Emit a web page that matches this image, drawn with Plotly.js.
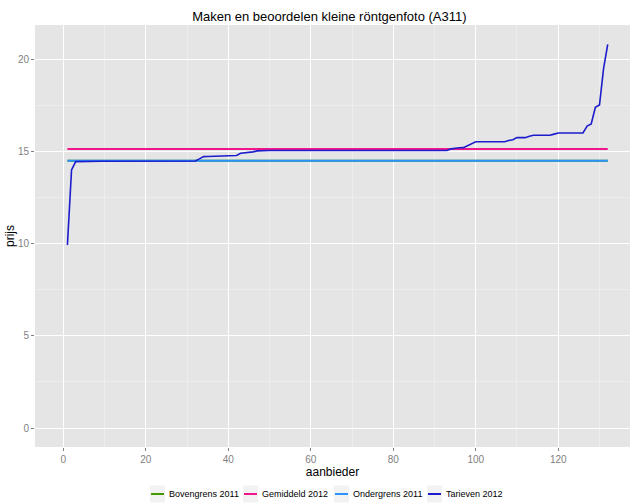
<!DOCTYPE html>
<html>
<head>
<meta charset="utf-8">
<script src="https://cdn.plot.ly/plotly-3.0.1.min.js"></script>
<style>html,body{margin:0;padding:0;background:#fff;}#chart{width:631px;height:503px;}</style>
</head>
<body>
<div id="chart"></div>
<script>
// Data
const seriesNames = ["Bovengrens 2011", "Gemiddeld 2012", "Ondergrens 2011", "Tarieven 2012"];
const tarieven2012 = [
  9.93, 14.0, 14.45, 14.46, 14.47, 14.47, 14.47, 14.47, 14.47, 14.47,
  14.47, 14.47, 14.47, 14.47, 14.47, 14.47, 14.47, 14.47, 14.47, 14.47,
  14.47, 14.47, 14.47, 14.47, 14.47, 14.47, 14.47, 14.47, 14.47, 14.47,
  14.47, 14.48, 14.6, 14.72, 14.73, 14.74, 14.75, 14.76, 14.77, 14.77,
  14.78, 14.78, 14.9, 14.92, 14.95, 14.98, 15.03, 15.05, 15.05, 15.05,
  15.05, 15.05, 15.05, 15.05, 15.05, 15.05, 15.05, 15.05, 15.05, 15.05,
  15.05, 15.05, 15.05, 15.05, 15.05, 15.05, 15.05, 15.05, 15.05, 15.05,
  15.05, 15.05, 15.05, 15.05, 15.05, 15.05, 15.05, 15.05, 15.05, 15.05,
  15.05, 15.05, 15.05, 15.05, 15.05, 15.05, 15.05, 15.05, 15.05, 15.05,
  15.05, 15.05, 15.05, 15.14, 15.18, 15.2, 15.21, 15.32, 15.43, 15.53,
  15.53, 15.53, 15.53, 15.53, 15.53, 15.53, 15.53, 15.6, 15.64, 15.75,
  15.75, 15.75, 15.82, 15.88, 15.88, 15.88, 15.88, 15.88, 15.94, 16.0,
  16.0, 16.0, 16.0, 16.0, 16.0, 16.0, 16.38, 16.49, 17.4, 17.52,
  19.51, 20.81
];
const gemiddeld2012 = 15.13;
const ondergrens2011 = 14.49;
const bovengrens2011 = 14.49;
const aanbieder = tarieven2012.map((_, i) => i + 1);
const xTicks = [0, 20, 40, 60, 80, 100, 120];
const yTicks = [0, 5, 10, 15, 20];

const colors = ["#449900", "#F0168C", "#2A93FF", "#1C1CCC"];
const constSeries = [bovengrens2011, gemiddeld2012, ondergrens2011];

const traces = [];
constSeries.forEach((v, k) => {
  traces.push({
    x: aanbieder, y: aanbieder.map(() => v), type: "scatter", mode: "lines",
    name: seriesNames[k], line: {color: colors[k], width: 2}
  });
});
traces.push({
  x: aanbieder, y: tarieven2012, type: "scatter", mode: "lines",
  name: seriesNames[3], line: {color: colors[3], width: 1.6}
});

// Plot-area geometry (pixels) for the hand-built ggplot-style legend
const W = 631, H = 503, mL = 35, mR = 1, mT = 25, mB = 56;
const pw = W - mL - mR, ph = H - mT - mB;
const px2x = p => (p - mL) / pw;
const py2y = p => (H - mB - p) / ph;
const keyLeft = [150, 243, 334, 427];
const keyW = 15, keyH = 17, legendY = 494;

const shapes = [], annotations = [];
seriesNames.forEach((name, k) => {
  const x0 = keyLeft[k];
  shapes.push({type: "rect", xref: "paper", yref: "paper",
    x0: px2x(x0), x1: px2x(x0 + keyW), y0: py2y(legendY + keyH / 2), y1: py2y(legendY - keyH / 2),
    fillcolor: "#f2f2f2", line: {width: 0}, layer: "above"});
  shapes.push({type: "line", xref: "paper", yref: "paper",
    x0: px2x(x0 + 1), x1: px2x(x0 + keyW - 1), y0: py2y(legendY), y1: py2y(legendY),
    line: {color: colors[k], width: 2}, layer: "above"});
  annotations.push({xref: "paper", yref: "paper", x: px2x(x0 + keyW + 3), y: py2y(legendY),
    xanchor: "left", yanchor: "middle", showarrow: false, text: name, borderpad: 0,
    font: {family: "Liberation Sans, Arial, sans-serif", size: 9, color: "#000"}});
});

const axisCommon = {
  showgrid: true, gridcolor: "#ffffff", gridwidth: 1,
  zeroline: false, showline: false,
  ticks: "outside", ticklen: 3, tickwidth: 1, tickcolor: "#7f7f7f",
  tickfont: {family: "Liberation Sans, Arial, sans-serif", size: 10, color: "#7f7f7f"}
};

const layout = {
  width: W, height: H,
  margin: {l: mL, r: mR, t: mT, b: mB, pad: 0, autoexpand: false},
  paper_bgcolor: "#ffffff", plot_bgcolor: "#e5e5e5",
  font: {family: "Liberation Sans, Arial, sans-serif", color: "#000"},
  title: {text: "Maken en beoordelen kleine röntgenfoto (A311)", x: 0.522, xanchor: "center", y: 0.968, yanchor: "middle",
          font: {size: 13, color: "#000", family: "Liberation Sans, Arial, sans-serif"}},
  xaxis: Object.assign({}, axisCommon, {
    range: [-6.86, 137.4], tickvals: xTicks, ticktext: xTicks.map(String),
    minor: {dtick: 10, tick0: 0, showgrid: true, gridcolor: "#f2f2f2", gridwidth: 0.6, ticks: ""},
    title: {text: "aanbieder", standoff: 1, font: {size: 12, color: "#000"}}
  }),
  yaxis: Object.assign({}, axisCommon, {
    range: [-1.03, 21.86], tickvals: yTicks, ticktext: yTicks.map(String),
    minor: {dtick: 2.5, tick0: 0, showgrid: true, gridcolor: "#f2f2f2", gridwidth: 0.6, ticks: ""},
    title: {text: "prijs", standoff: 0, font: {size: 12, color: "#000"}}
  }),
  showlegend: false,
  shapes: shapes,
  annotations: annotations
};

Plotly.newPlot("chart", traces, layout, {displayModeBar: false, staticPlot: true});
</script>
</body>
</html>
